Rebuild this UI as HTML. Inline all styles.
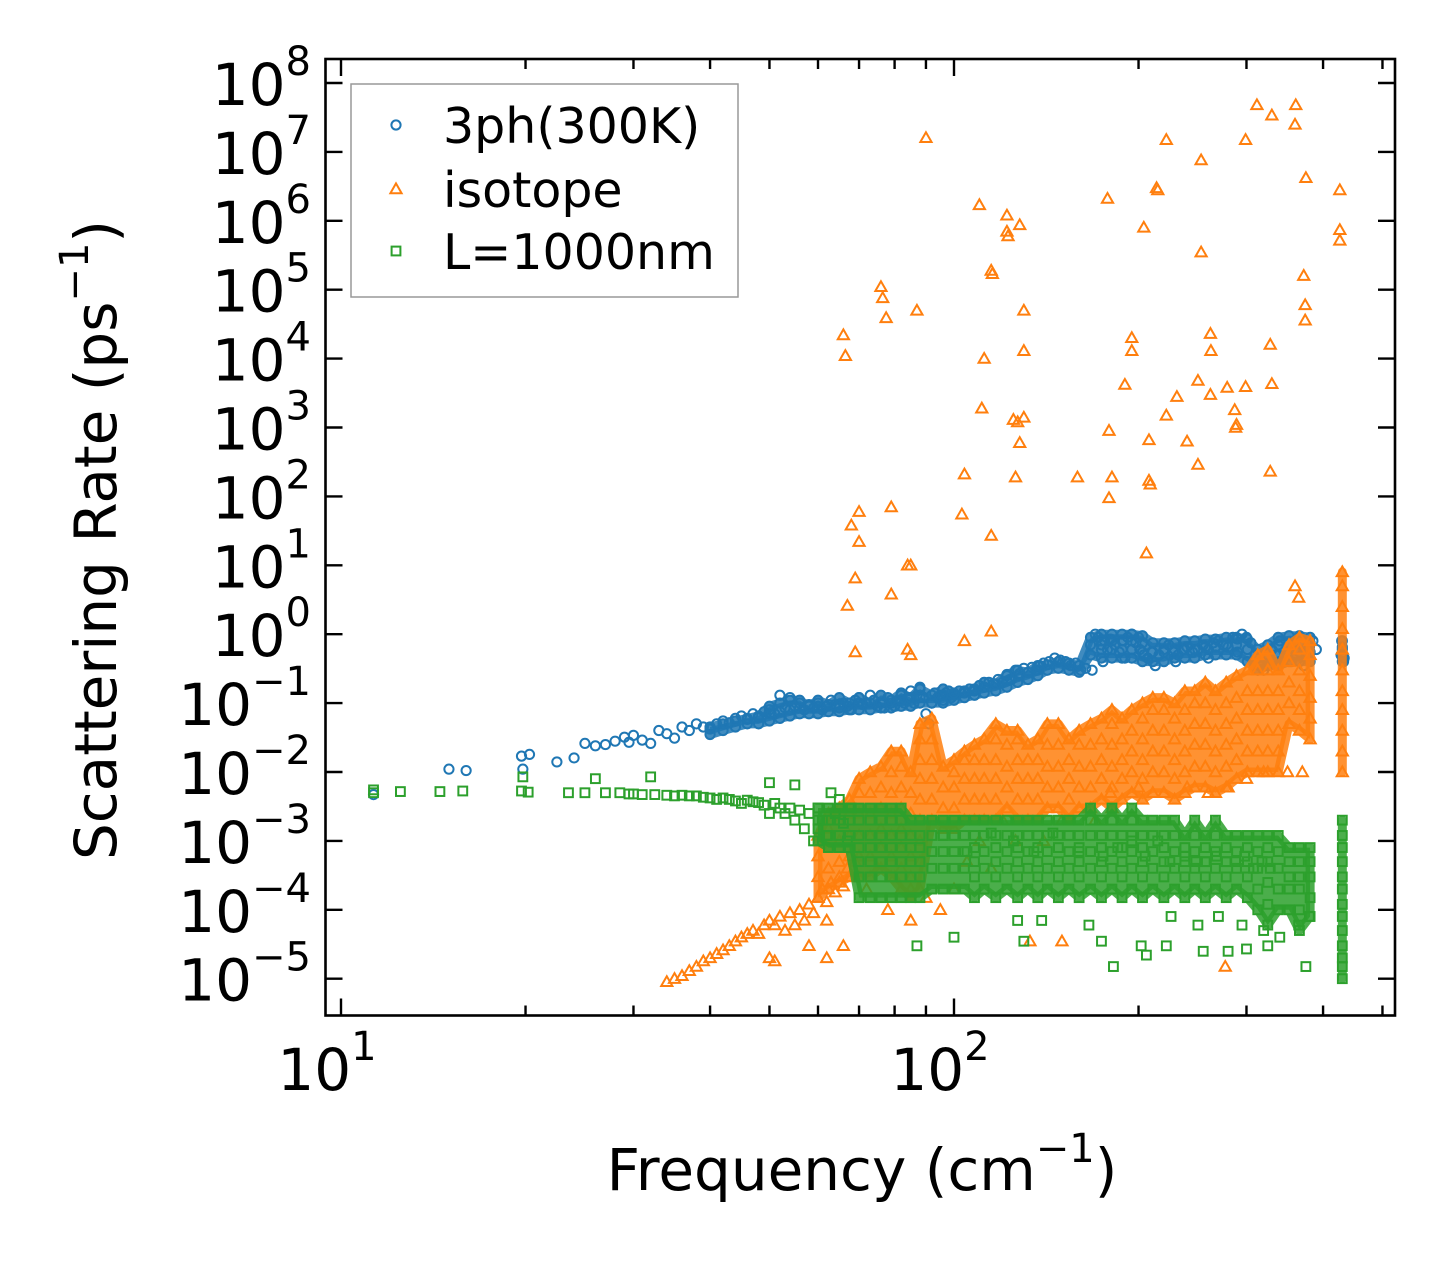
<!DOCTYPE html>
<html><head><meta charset="utf-8">
<style>
html,body{margin:0;padding:0;background:#fff;}
svg{display:block;font-family:"DejaVu Sans","Liberation Sans",sans-serif;}
</style></head>
<body>
<svg id="chart" width="1455" height="1265" viewBox="0 0 1455 1265" xmlns="http://www.w3.org/2000/svg">
<rect x="0" y="0" width="1455" height="1265" fill="#fff"/>
<g id="marks"></g>
<g id="axes"></g>
<g id="legend"></g>
</svg>
<script>
const xTickValues = [10, 100];
const xTickLabels = ["1", "2"];
const yTickValues = [1e8,1e7,1e6,1e5,1e4,1e3,1e2,1e1,1e0,1e-1,1e-2,1e-3,1e-4,1e-5];
const yTickLabels = ["8","7","6","5","4","3","2","1","0","−1","−2","−3","−4","−5"];
const seriesNames = ["3ph(300K)", "isotope", "L=1000nm"];

const threePhFreq = [11.3,15,16,19.7,20.3,19.8,22.5,24,25,26,27,28,29,29.5,30,31,32,33,34,35,36,37,38,39,40,41,42,43,44,45,46,47,48,49,50,51,52,53,54,55,56,57,58,59,60,61,62,63,64,65,66,67,68,69,70,71,72,73,74,75,76,77,78,79,80,81,82,83,84,85,86,87,88,89,90,91,92,93,94,95,96,97,98,99,100,102,104,106,108,110,112,114,116,118,120,122,124,126,128,130,132,134,136,138,140,143,146,149,152,155,158,161,164,168,170,172,174,176,178,180,183,186,189,192,195,198,201,204,207,210,213,216,220,224,228,232,236,240,245,250,255,260,265,270,275,280,285,290,295,300,305,310,315,320,325,330,335,340,350,360,365,370,375,380,385,390,428,430,431,433,429,432,175,190,200,230,260,290,340,355,372];
const threePhRate = [.0047,.011,.0105,.017,.018,.011,.014,.016,.026,.024,.025,.028,.032,.027,.034,.029,.026,.04,.036,.031,.045,.04,.05,.045,.042,.05,.055,.052,.06,.065,.058,.07,.062,.075,.08,.07,.13,.085,.12,.09,.1,.08,.095,.085,.1,.08,.09,.11,.095,.085,.1,.09,.08,.11,.12,.095,.1,.13,.11,.09,.1,.085,.12,.1,.09,.11,.13,.1,.12,.15,.1,.13,.17,.12,.07,.05,.1,.14,.12,.13,.11,.14,.15,.12,.13,.15,.14,.16,.15,.18,.17,.2,.19,.22,.2,.25,.22,.3,.27,.32,.28,.33,.3,.35,.38,.4,.45,.42,.4,.35,.38,.3,.32,.3,1.0,.9,.7,.8,.6,.85,.7,.55,.8,.9,1.0,.75,.6,.5,.45,.55,.35,.5,.6,.7,.55,.5,.6,.65,.55,.6,.7,.6,.75,.8,.7,.65,.9,.85,1.0,.9,.75,.5,.35,.3,.45,.6,.5,.4,.5,.6,.9,.7,.55,.65,.8,.6,.5,.6,.5,.45,.8,.4,.4,.45,.9,.4,.45,.55,.8,.4,.35];

const threePhColFreq = [40,42,44,46,48,50,52,54,56,58,60,62.4,65,67.5,70,73,76,79,82,85,88,92,96,100,104,108,112,117,122,127,132,137,142,148,154,160,167,174,181,188,195,203,211,220,229,238,247,257,267,278,289,301,313,325,338,352,366,381,430];
const threePhColRates = [[.035,.045],[.04,.05],[.045,.055],[.05,.06],[.05,.065],[.055,.07,.09],[.06,.075,.1],[.065,.08,.11],[.07,.085,.11],[.07,.09],[.07,.09,.11],[.075,.095],[.075,.095,.12],[.08,.1],[.08,.1,.12],[.08,.1],[.085,.1,.13],[.085,.11],[.09,.11,.14],[.09,.12],[.1,.12,.16],[.1,.13],[.1,.13,.16],[.11,.14],[.12,.15],[.13,.16],[.14,.17,.2],[.15,.19],[.17,.21,.26],[.2,.25,.3],[.22,.28],[.25,.3,.35],[.3,.36],[.32,.4],[.3,.38],[.28,.35],[.5,.7,.9],[.45,.6,.8,1.0],[.45,.6,.8,1.0],[.45,.6,.8,1.0],[.45,.6,.8,1.0],[.4,.55,.75,.95],[.4,.55,.75],[.4,.55,.75],[.45,.6,.75],[.45,.6,.8],[.45,.6,.8],[.5,.65,.85],[.5,.65,.85],[.5,.7,.9],[.5,.7,.9],[.4,.6,.85],[.3,.45,.6],[.35,.5,.7],[.35,.5,.7,.9],[.4,.55,.75,.95],[.4,.55,.75,.95],[.4,.55,.75,.9],[.4,.5,.65,.8]];

const isotopeFreq = [90,66,66.5,76,76.5,77.5,87,110,122,122,122.5,128,115,115.5,130,130,112,111,125,127,130,128,126,104,103,115,115,104,159,178,179,181,179,195,195,190,204,208,208,209,206,214,215,222,222,231,240,250,253,253,250,262,262.5,262,279,287,288,289,299,299,312,330,328,330,328,361,360,375,372,374,374,426,426,426,68,70,70,69,67,79,79,85,84,69,84,85,360,365,
34,35,36,37,38,39,40,41,42,43,44,45,46,47,48,49,50,51,52,53,54,55,56,57,58,59,60,61,62,63,64,65,66,67,68,69,70,50,58,62,66,
72,75,78,80,85,90,95,100,105,110,115,120,126,133,140,150,160,170,180,200,220,240,260,280,300,320,350,370,277,85,62,51,150];
const isotopeRate = [1.6e7,2.2e4,1.1e4,1.1e5,7.6e4,3.9e4,5e4,1.7e6,1.2e6,7e5,6e5,8.7e5,1.9e5,1.7e5,5e4,1.3e4,1e4,1.9e3,1.3e3,1.2e3,1.4e3,600,190,210,55,27,1.1,0.8,190,2.1e6,900,190,95,2e4,1.3e4,4.2e3,8e5,660,170,150,15,3e6,2.8e6,1.5e7,1.5e3,2.8e3,630,4.8e3,7.6e6,3.5e5,290,2.3e4,1.3e4,3e3,3.8e3,1.8e3,1e3,1.1e3,3.9e3,1.5e7,4.8e7,3.4e7,1.6e4,4.3e3,230,4.8e7,2.5e7,4.2e6,1.6e5,6e4,3.6e4,2.8e6,7.4e5,5.2e5,38,22,60,6.5,2.6,70,3.8,10,10,0.55,0.6,0.5,5,3.4,
9e-6,1e-5,1.1e-5,1.3e-5,1.5e-5,1.8e-5,2e-5,2.3e-5,2.6e-5,3e-5,3.5e-5,4e-5,4.5e-5,5e-5,4.5e-5,6e-5,7e-5,6e-5,8e-5,5e-5,9e-5,6e-5,1e-4,7e-5,1.2e-4,9e-5,1.5e-4,2e-4,1.3e-4,2.5e-4,1.8e-4,3e-4,2.2e-4,4e-4,3e-4,5e-4,6e-4,2e-5,3e-5,2e-5,3e-5,
2e-4,4e-4,1e-4,3e-4,2e-4,1.5e-4,1e-4,2e-4,5e-4,1e-3,4e-4,2e-3,1e-3,3.5e-5,1e-3,2e-3,3e-3,2e-3,5e-3,6e-3,5e-3,6e-3,5e-3,6e-3,8e-3,1e-2,1e-2,1e-2,1.5e-5,7e-5,7e-5,1.8e-5,3.5e-5];

const isotopeColFreq = [60,62.4,65,67.5,70,73,76,79,82,85,88,92,96,100,104,108,112,117,122,127,132,137,142,148,154,160,167,174,181,188,195,203,211,220,229,238,247,257,267,278,289,301,313,325,338,352,366,381,430];
const isotopeColRates = [[1.5e-4,3e-4,6e-4,1.2e-3],[2e-4,4e-4,8e-4,1.5e-3,2.5e-3],[2.5e-4,5e-4,1e-3,2e-3,3e-3],[3e-4,6e-4,1.2e-3,2.5e-3,4e-3],[3e-4,6e-4,1.2e-3,2.5e-3,5e-3,8e-3],[3e-4,6e-4,1.2e-3,2.5e-3,5e-3,1e-2],[4e-4,8e-4,1.5e-3,3e-3,6e-3,1.2e-2],[3e-4,6e-4,1.2e-3,2.5e-3,5e-3,1e-2,2e-2],[2e-4,4e-4,8e-4,1.5e-3,3e-3,6e-3,1.2e-2,2e-2],[1.5e-4,3e-4,6e-4,1.2e-3,2.5e-3,5e-3,1e-2],[2e-4,5e-4,1e-3,2e-3,4e-3,8e-3,1.5e-2,3e-2,5e-2],[2e-3,4e-3,8e-3,1.5e-2,3e-2,6e-2],[1.5e-3,3e-3,6e-3,1.2e-2],[1.5e-3,3e-3,6e-3,1e-2,1.5e-2],[2e-3,4e-3,8e-3,1.5e-2,2e-2],[2e-3,4e-3,8e-3,1.5e-2,2.5e-2],[2e-3,4e-3,8e-3,1.5e-2,3e-2],[2e-3,4e-3,8e-3,1.5e-2,3e-2,5e-2],[3e-3,6e-3,1.2e-2,2.5e-2,4e-2],[2e-3,4e-3,8e-3,1.5e-2,3e-2,4e-2],[2e-3,4e-3,8e-3,1.5e-2,2.5e-2],[2e-3,4e-3,8e-3,1.5e-2,3e-2],[3e-3,6e-3,1.2e-2,2.5e-2,5e-2],[3e-3,6e-3,1.2e-2,2.5e-2,5e-2],[2e-3,4e-3,8e-3,1.5e-2,3e-2],[3e-3,6e-3,1.2e-2,2.5e-2,4e-2],[3e-3,6e-3,1.2e-2,2.5e-2,5e-2],[4e-3,8e-3,1.5e-2,3e-2,6e-2],[3e-3,6e-3,1.2e-2,2.5e-2,5e-2,8e-2],[4e-3,8e-3,1.5e-2,3e-2,6e-2],[5e-3,1e-2,2e-2,4e-2,8e-2],[4e-3,8e-3,1.5e-2,3e-2,6e-2,1e-1],[5e-3,1e-2,2e-2,4e-2,8e-2,1.2e-1],[5e-3,1e-2,2e-2,4e-2,8e-2,1.2e-1],[4e-3,8e-3,1.5e-2,3e-2,6e-2,1e-1],[5e-3,1e-2,2e-2,4e-2,8e-2,1.5e-1],[6e-3,1.2e-2,2.5e-2,5e-2,1e-1,1.5e-1],[6e-3,1.2e-2,2.5e-2,5e-2,1e-1,2e-1],[5e-3,1e-2,2e-2,4e-2,8e-2,1.5e-1],[6e-3,1.2e-2,2.5e-2,5e-2,1e-1,2e-1],[8e-3,1.5e-2,3e-2,6e-2,1.2e-1,2.5e-1],[1e-2,2e-2,4e-2,8e-2,1.5e-1,3e-1],[1e-2,2e-2,4e-2,8e-2,1.5e-1,3e-1,5e-1],[1e-2,2e-2,4e-2,8e-2,1.5e-1,3e-1,6e-1],[1e-2,2e-2,4e-2,8e-2,1.5e-1,3e-1],[5e-2,1e-1,2e-1,4e-1,7e-1],[4e-2,8e-2,1.5e-1,3e-1,6e-1,9e-1],[3e-2,6e-2,1.2e-1,2.5e-1,5e-1,8e-1],[1e-2,2e-2,4e-2,8e-2,1.5e-1,3e-1,6e-1,1.2,2.5,5,8]];

const boundaryFreq = [11.3,11.3,12.5,14.5,15.8,19.7,19.8,20.2,23.5,25,26,27,28.5,29.5,30,31,32,32.5,34,35,36,37,38,39,40,41,42,43,44,45,46,47,48,49,50,50,51,52,53,54,55,55,56,57,58,59,60,61,62,63,64,65,66,67,68,
87,100,127,130,139,166,174,182,202,206,222,226,250,255,270,280,295,300,320,325,340,365,375,380,
96,105,115,125,135,145,160,175,185,195,205,215,225,238,248,258,268,278,288,298,308,318,328];
const boundaryRate = [5e-3,5.5e-3,5.2e-3,5.2e-3,5.3e-3,5.3e-3,8.5e-3,5.1e-3,5e-3,5e-3,8e-3,5e-3,5e-3,4.8e-3,4.8e-3,4.7e-3,8.5e-3,4.7e-3,4.6e-3,4.5e-3,4.6e-3,4.5e-3,4.5e-3,4.3e-3,4.2e-3,4e-3,4.2e-3,4e-3,3.8e-3,3.5e-3,3.9e-3,3.7e-3,3.6e-3,3.3e-3,7e-3,2.5e-3,3.5e-3,3e-3,2.5e-3,3e-3,6.5e-3,2e-3,2.8e-3,1.5e-3,2.5e-3,1e-3,3e-3,2e-3,1.2e-3,5e-3,2.5e-3,4e-3,1.8e-3,1e-3,3e-3,
3e-5,4e-5,7e-5,3.5e-5,7e-5,6e-5,3.5e-5,1.5e-5,3e-5,2.2e-5,3e-5,8e-5,6e-5,2.5e-5,8e-5,2.5e-5,6e-5,2.7e-5,5e-5,3e-5,4e-5,6e-5,1.5e-5,8e-5,
1.2e-3,7e-4,1.3e-3,1e-3,7e-4,1.3e-3,7e-4,6e-4,8e-4,1e-3,6e-4,1e-3,5e-4,6e-4,5e-4,5e-4,6e-4,5e-4,5e-4,6e-4,4e-4,5e-4,4e-4];

const boundaryColFreq = [60,62.4,65,67.5,70,73,76,79,82,85,88,92,96,100,104,108,112,117,122,127,132,137,142,148,154,160,167,174,181,188,195,203,211,220,229,238,247,257,267,278,289,301,313,325,338,352,366,381,430];
const boundaryColRates = [[1e-3,1.5e-3,2e-3,3e-3],[8e-4,1.2e-3,2e-3,3e-3],[8e-4,1.2e-3,2e-3,3e-3],[8e-4,1.2e-3,2e-3,3e-3],[1.5e-4,3e-4,5e-4,8e-4,1.2e-3,2e-3,3e-3],[1.5e-4,3e-4,5e-4,8e-4,1.2e-3,2e-3,3e-3],[1.5e-4,3e-4,5e-4,8e-4,1.2e-3,2e-3,3e-3],[1.5e-4,3e-4,5e-4,8e-4,1.2e-3,2e-3,3e-3],[1.5e-4,3e-4,5e-4,8e-4,1.2e-3,2e-3,3e-3],[1.5e-4,3e-4,5e-4,8e-4,1.2e-3,2e-3],[1.5e-4,3e-4,5e-4,8e-4,1.2e-3,2e-3],[2e-4,4e-4,7e-4,1.2e-3,2e-3],[2e-4,4e-4,7e-4,1.2e-3,2e-3],[2e-4,4e-4,7e-4,1.2e-3,2e-3],[2e-4,4e-4,7e-4,1.2e-3,2e-3],[1.5e-4,3e-4,5e-4,8e-4,1.2e-3,2e-3],[2e-4,4e-4,7e-4,1.2e-3,2e-3],[1.5e-4,3e-4,5e-4,8e-4,1.2e-3,2e-3],[2e-4,4e-4,7e-4,1.2e-3,2e-3],[1.5e-4,3e-4,5e-4,8e-4,1.2e-3,2e-3],[2e-4,4e-4,7e-4,1.2e-3,2e-3],[1.5e-4,3e-4,5e-4,8e-4,1.2e-3,2e-3],[2e-4,4e-4,7e-4,1.2e-3,2e-3],[1.5e-4,3e-4,5e-4,8e-4,1.2e-3,2e-3],[2e-4,4e-4,7e-4,1.2e-3,2e-3],[1.5e-4,3e-4,5e-4,8e-4,1.2e-3,2e-3],[2e-4,4e-4,7e-4,1.2e-3,2e-3,3e-3],[1.5e-4,3e-4,5e-4,8e-4,1.2e-3,2e-3],[2e-4,4e-4,7e-4,1.2e-3,2e-3,3e-3],[1.5e-4,3e-4,5e-4,8e-4,1.2e-3,2e-3],[2e-4,4e-4,7e-4,1.2e-3,2e-3,3e-3],[1.5e-4,3e-4,5e-4,8e-4,1.2e-3,2e-3],[2e-4,4e-4,7e-4,1.2e-3,2e-3],[1.5e-4,3e-4,5e-4,8e-4,1.2e-3,2e-3],[2e-4,4e-4,7e-4,1.2e-3,2e-3],[1.5e-4,3e-4,5e-4,8e-4,1.2e-3],[2e-4,4e-4,7e-4,1.2e-3,2e-3],[1.5e-4,3e-4,5e-4,8e-4,1.2e-3],[2e-4,4e-4,7e-4,1.2e-3,2e-3],[1.5e-4,3e-4,5e-4,8e-4,1.2e-3],[2e-4,4e-4,7e-4,1.2e-3],[1.5e-4,3e-4,5e-4,8e-4,1.2e-3],[1e-4,2e-4,4e-4,7e-4,1.2e-3],[6e-5,1.2e-4,2.5e-4,5e-4,8e-4,1.2e-3],[1e-4,2e-4,4e-4,7e-4,1.2e-3],[1e-4,2e-4,3e-4,5e-4,8e-4],[5e-5,1e-4,2e-4,3e-4,5e-4,8e-4],[8e-5,1.5e-4,3e-4,5e-4,8e-4],[1e-5,1.5e-5,2e-5,3e-5,5e-5,8e-5,1.2e-4,2e-4,3e-4,5e-4,8e-4,1.2e-3,2e-3]];

const NS = "http://www.w3.org/2000/svg";
const L = 325.5, R = 1395, T = 59, B = 1015.5;
const x10 = 341, xDec = 613;
const y8 = 83, yDec = 68.9;
function xScale(v){ return x10 + (Math.log10(v) - 1) * xDec; }
function yScale(v){ return y8 + (8 - Math.log10(v)) * yDec; }
function mk(tag, attrs, parent){
  const e = document.createElementNS(NS, tag);
  for (const k in attrs) e.setAttribute(k, attrs[k]);
  parent.appendChild(e);
  return e;
}
const marks = document.getElementById('marks');
const axes = document.getElementById('axes');
const legend = document.getElementById('legend');
const clip = mk('clipPath', {id:'plotclip'}, document.getElementById('chart'));
mk('rect', {x:L, y:T, width:R-L, height:B-T}, clip);
marks.setAttribute('clip-path', 'url(#plotclip)');

const BLUE = "#1f77b4", ORANGE = "#ff7f0e", GREEN = "#2ca02c";
function circle(cx, cy, parent){
  return mk('circle', {cx:cx, cy:cy, r:4.6, fill:'none', stroke:BLUE, 'stroke-width':2}, parent);
}
function tri(cx, cy, parent){
  const s = 5.6;
  return mk('polygon', {points:`${cx},${cy-s} ${cx-s},${cy+s*0.75} ${cx+s},${cy+s*0.75}`, fill:'none', stroke:ORANGE, 'stroke-width':2}, parent);
}
function sq(cx, cy, parent){
  const s = 4.4;
  return mk('rect', {x:cx-s, y:cy-s, width:2*s, height:2*s, fill:'none', stroke:GREEN, 'stroke-width':2}, parent);
}

const gBlue = mk('g', {}, marks);


const gOrange = mk('g', {}, marks);


const gGreen = mk('g', {}, marks);



// dense-cloud band drawn from each column's min/max
function band(fr, cols, color, g, name){
  let runs = [], cur = [];
  for (let i = 0; i < fr.length; i++){
    if (cur.length && fr[i] / fr[i-1] > 1.1){ runs.push(cur); cur = []; }
    cur.push(i);
  }
  runs.push(cur);
  runs.forEach(run => {
    const top = run.map(i => `${xScale(fr[i])},${yScale(Math.max(...cols[i]))}`);
    const bot = run.slice().reverse().map(i => `${xScale(fr[i])},${yScale(Math.min(...cols[i]))}`);
    const p = mk('polygon', {points: top.concat(bot).join(' '), fill:color, 'fill-opacity':0.85, stroke:color, 'stroke-opacity':0.85, 'stroke-width':9, 'stroke-linejoin':'round'}, g);
    
    
  });
}
function plotPairs(fr, rt, fn, g, name){
  for (let i = 0; i < fr.length; i++){
    const e = fn(xScale(fr[i]), yScale(rt[i]), g);
    
    
  }
}
function plotCols(fr, cols, fn, g, name){
  for (let i = 0; i < fr.length; i++){
    for (let j = 0; j < cols[i].length; j++){
      const e = fn(xScale(fr[i]), yScale(cols[i][j]), g);
      
      
    }
  }
}
band(threePhColFreq, threePhColRates, BLUE, gBlue, '3ph-dense-band');
plotPairs(threePhFreq, threePhRate, circle, gBlue, '3ph-point');
plotCols(threePhColFreq, threePhColRates, circle, gBlue, '3ph-point');
band(isotopeColFreq, isotopeColRates, ORANGE, gOrange, 'isotope-dense-band');
plotPairs(isotopeFreq, isotopeRate, tri, gOrange, 'isotope-point');
plotCols(isotopeColFreq, isotopeColRates, tri, gOrange, 'isotope-point');
band(boundaryColFreq, boundaryColRates, GREEN, gGreen, 'boundary-dense-band');
plotPairs(boundaryFreq, boundaryRate, sq, gGreen, 'boundary-point');
plotCols(boundaryColFreq, boundaryColRates, sq, gGreen, 'boundary-point');

const frame = mk('rect', {x:L, y:T, width:R-L, height:B-T, fill:'none', stroke:'#000', 'stroke-width':2.6}, axes);



for (let d = 10; d <= 1000; d *= 10){
  for (let m = 1; m <= 9; m++){
    const v = d * m / 10;
    const x = xScale(v);
    if (x < L || x > R) continue;
    const len = (m === 1) ? 17 : 10;
    const t1 = mk('line', {x1:x, y1:B, x2:x, y2:B-len, stroke:'#000', 'stroke-width':2.4}, axes);
    
    
    const t2 = mk('line', {x1:x, y1:T, x2:x, y2:T+len, stroke:'#000', 'stroke-width':2.4}, axes);
    
    
  }
}
xTickValues.forEach((v, i) => {
  const t = mk('text', {x:xScale(v)-14, y:1090, 'text-anchor':'middle', 'font-size':58, fill:'#000'}, axes);
  
  
  t.textContent = '10';
  const s = mk('tspan', {dy:-30, 'font-size':40}, t);
  s.textContent = xTickLabels[i];
});
yTickValues.forEach((v, i) => {
  const y = yScale(v);
  const a = mk('line', {x1:L, y1:y, x2:L+17, y2:y, stroke:'#000', 'stroke-width':2.4}, axes);
  
  
  const b = mk('line', {x1:R, y1:y, x2:R-17, y2:y, stroke:'#000', 'stroke-width':2.4}, axes);
  
  
  const t = mk('text', {x:311, y:y+22, 'text-anchor':'end', 'font-size':58, fill:'#000'}, axes);
  
  
  t.textContent = '10';
  const s = mk('tspan', {dy:-30, 'font-size':40}, t);
  s.textContent = yTickLabels[i];
});
const xt = mk('text', {x:862, y:1190, 'text-anchor':'middle', 'font-size':58, fill:'#000'}, axes);


xt.textContent = 'Frequency (cm';
const xs = mk('tspan', {dy:-28, 'font-size':40}, xt); xs.textContent = '−1';
const xe = mk('tspan', {dy:28}, xt); xe.textContent = ')';

const yt = mk('text', {x:0, y:0, 'text-anchor':'middle', 'font-size':58, fill:'#000', transform:'translate(116,540) rotate(-90)'}, axes);


yt.textContent = 'Scattering Rate (ps';
const ys = mk('tspan', {dy:-28, 'font-size':40}, yt); ys.textContent = '−1';
const ye = mk('tspan', {dy:28}, yt); ye.textContent = ')';

const lb = mk('rect', {x:351, y:84, width:387, height:213, fill:'#fff', stroke:'#999', 'stroke-width':1.5}, legend);


const rows = [125, 189, 251];
const drawers = [circle, tri, sq];
seriesNames.forEach((n, i) => {
  const g = mk('g', {}, legend);
  
  
  drawers[i](396, rows[i], g);
  const t = mk('text', {x:443, y:rows[i]+18, 'font-size':49, fill:'#000'}, g);
  
  
  t.textContent = n;
});
</script>
</body></html>
